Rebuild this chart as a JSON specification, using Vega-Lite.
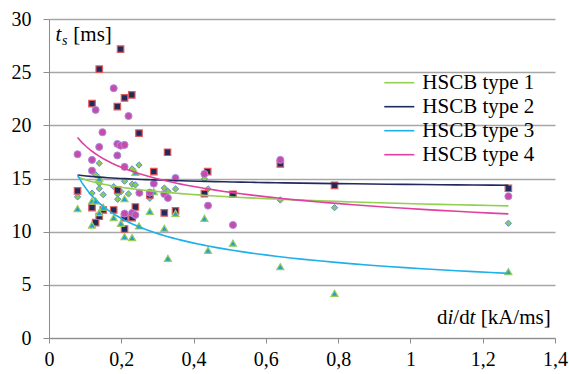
{
  "$schema": "https://vega.github.io/schema/vega-lite/v6.json",
  "width": 506,
  "height": 319,
  "autosize": {"type": "none"},
  "padding": {"left": 49, "top": 19, "right": 14, "bottom": 36},
  "background": "white",
  "config": {"view": {"stroke": null}},
  "data": {"values": [
    {"series": "HSCB type 1", "x": 0.079, "y": 13.27},
    {"series": "HSCB type 1", "x": 0.119, "y": 13.62},
    {"series": "HSCB type 1", "x": 0.129, "y": 15.35},
    {"series": "HSCB type 1", "x": 0.139, "y": 16.43},
    {"series": "HSCB type 1", "x": 0.139, "y": 14.55},
    {"series": "HSCB type 1", "x": 0.139, "y": 14.05},
    {"series": "HSCB type 1", "x": 0.150, "y": 13.48},
    {"series": "HSCB type 1", "x": 0.179, "y": 14.23},
    {"series": "HSCB type 1", "x": 0.190, "y": 13.55},
    {"series": "HSCB type 1", "x": 0.190, "y": 13.05},
    {"series": "HSCB type 1", "x": 0.199, "y": 13.76},
    {"series": "HSCB type 1", "x": 0.209, "y": 14.75},
    {"series": "HSCB type 1", "x": 0.220, "y": 13.55},
    {"series": "HSCB type 1", "x": 0.230, "y": 15.9},
    {"series": "HSCB type 1", "x": 0.230, "y": 14.46},
    {"series": "HSCB type 1", "x": 0.239, "y": 14.4},
    {"series": "HSCB type 1", "x": 0.249, "y": 16.27},
    {"series": "HSCB type 1", "x": 0.279, "y": 13.14},
    {"series": "HSCB type 1", "x": 0.319, "y": 14.1},
    {"series": "HSCB type 1", "x": 0.329, "y": 13.8},
    {"series": "HSCB type 1", "x": 0.350, "y": 14.02},
    {"series": "HSCB type 1", "x": 0.430, "y": 14.96},
    {"series": "HSCB type 1", "x": 0.440, "y": 14.02},
    {"series": "HSCB type 1", "x": 0.640, "y": 12.98},
    {"series": "HSCB type 1", "x": 0.790, "y": 12.26},
    {"series": "HSCB type 1", "x": 1.271, "y": 10.79},
    {"series": "HSCB type 2", "x": 0.079, "y": 13.83},
    {"series": "HSCB type 2", "x": 0.119, "y": 22.04},
    {"series": "HSCB type 2", "x": 0.119, "y": 12.26},
    {"series": "HSCB type 2", "x": 0.129, "y": 10.85},
    {"series": "HSCB type 2", "x": 0.139, "y": 25.28},
    {"series": "HSCB type 2", "x": 0.139, "y": 11.45},
    {"series": "HSCB type 2", "x": 0.150, "y": 12.04},
    {"series": "HSCB type 2", "x": 0.179, "y": 12.04},
    {"series": "HSCB type 2", "x": 0.189, "y": 21.76},
    {"series": "HSCB type 2", "x": 0.190, "y": 13.92},
    {"series": "HSCB type 2", "x": 0.198, "y": 27.16},
    {"series": "HSCB type 2", "x": 0.209, "y": 22.58},
    {"series": "HSCB type 2", "x": 0.209, "y": 11.32},
    {"series": "HSCB type 2", "x": 0.209, "y": 10.25},
    {"series": "HSCB type 2", "x": 0.229, "y": 22.86},
    {"series": "HSCB type 2", "x": 0.230, "y": 11.32},
    {"series": "HSCB type 2", "x": 0.239, "y": 12.32},
    {"series": "HSCB type 2", "x": 0.249, "y": 19.26},
    {"series": "HSCB type 2", "x": 0.279, "y": 13.45},
    {"series": "HSCB type 2", "x": 0.290, "y": 15.65},
    {"series": "HSCB type 2", "x": 0.319, "y": 11.76},
    {"series": "HSCB type 2", "x": 0.328, "y": 17.47},
    {"series": "HSCB type 2", "x": 0.350, "y": 11.95},
    {"series": "HSCB type 2", "x": 0.430, "y": 13.58},
    {"series": "HSCB type 2", "x": 0.439, "y": 15.65},
    {"series": "HSCB type 2", "x": 0.509, "y": 13.52},
    {"series": "HSCB type 2", "x": 0.640, "y": 16.37},
    {"series": "HSCB type 2", "x": 0.790, "y": 14.36},
    {"series": "HSCB type 2", "x": 1.271, "y": 14.08},
    {"series": "HSCB type 3", "x": 0.079, "y": 12.17},
    {"series": "HSCB type 3", "x": 0.119, "y": 12.89},
    {"series": "HSCB type 3", "x": 0.119, "y": 10.63},
    {"series": "HSCB type 3", "x": 0.129, "y": 12.89},
    {"series": "HSCB type 3", "x": 0.139, "y": 15.02},
    {"series": "HSCB type 3", "x": 0.139, "y": 11.8},
    {"series": "HSCB type 3", "x": 0.150, "y": 12.3},
    {"series": "HSCB type 3", "x": 0.179, "y": 11.32},
    {"series": "HSCB type 3", "x": 0.199, "y": 10.79},
    {"series": "HSCB type 3", "x": 0.209, "y": 13.1},
    {"series": "HSCB type 3", "x": 0.209, "y": 9.53},
    {"series": "HSCB type 3", "x": 0.230, "y": 9.44},
    {"series": "HSCB type 3", "x": 0.239, "y": 15.59},
    {"series": "HSCB type 3", "x": 0.249, "y": 10.54},
    {"series": "HSCB type 3", "x": 0.279, "y": 11.92},
    {"series": "HSCB type 3", "x": 0.290, "y": 13.76},
    {"series": "HSCB type 3", "x": 0.319, "y": 10.32},
    {"series": "HSCB type 3", "x": 0.329, "y": 7.5},
    {"series": "HSCB type 3", "x": 0.350, "y": 11.73},
    {"series": "HSCB type 3", "x": 0.430, "y": 11.26},
    {"series": "HSCB type 3", "x": 0.440, "y": 8.25},
    {"series": "HSCB type 3", "x": 0.509, "y": 8.92},
    {"series": "HSCB type 3", "x": 0.640, "y": 6.71},
    {"series": "HSCB type 3", "x": 0.790, "y": 4.2},
    {"series": "HSCB type 3", "x": 1.271, "y": 6.24},
    {"series": "HSCB type 4", "x": 0.079, "y": 17.28},
    {"series": "HSCB type 4", "x": 0.119, "y": 16.75},
    {"series": "HSCB type 4", "x": 0.119, "y": 15.74},
    {"series": "HSCB type 4", "x": 0.129, "y": 21.45},
    {"series": "HSCB type 4", "x": 0.139, "y": 17.97},
    {"series": "HSCB type 4", "x": 0.148, "y": 19.35},
    {"series": "HSCB type 4", "x": 0.179, "y": 23.49},
    {"series": "HSCB type 4", "x": 0.189, "y": 18.25},
    {"series": "HSCB type 4", "x": 0.189, "y": 17.17},
    {"series": "HSCB type 4", "x": 0.198, "y": 18.09},
    {"series": "HSCB type 4", "x": 0.209, "y": 18.16},
    {"series": "HSCB type 4", "x": 0.209, "y": 16.09},
    {"series": "HSCB type 4", "x": 0.209, "y": 11.7},
    {"series": "HSCB type 4", "x": 0.220, "y": 20.88},
    {"series": "HSCB type 4", "x": 0.230, "y": 11.76},
    {"series": "HSCB type 4", "x": 0.239, "y": 11.57},
    {"series": "HSCB type 4", "x": 0.250, "y": 13.65},
    {"series": "HSCB type 4", "x": 0.279, "y": 13.67},
    {"series": "HSCB type 4", "x": 0.290, "y": 14.52},
    {"series": "HSCB type 4", "x": 0.319, "y": 13.55},
    {"series": "HSCB type 4", "x": 0.329, "y": 13.17},
    {"series": "HSCB type 4", "x": 0.350, "y": 15.05},
    {"series": "HSCB type 4", "x": 0.430, "y": 15.43},
    {"series": "HSCB type 4", "x": 0.440, "y": 12.45},
    {"series": "HSCB type 4", "x": 0.509, "y": 10.63},
    {"series": "HSCB type 4", "x": 0.640, "y": 16.75},
    {"series": "HSCB type 4", "x": 1.271, "y": 13.33}
  ]},
  "layer": [
    {
      "transform": [{"filter": "datum.series === 'HSCB type 1'"}],
      "mark": {"type": "point", "shape": "diamond", "filled": true, "fill": "#8fcb4a", "stroke": "#5b8fd6", "strokeWidth": 1, "size": 40, "opacity": 1},
      "encoding": {
        "x": {
          "field": "x", "type": "quantitative",
          "scale": {"domain": [0, 1.4], "nice": false, "zero": false},
          "axis": {
            "title": null, "grid": false,
            "values": [0, 0.2, 0.4, 0.6, 0.8, 1, 1.2, 1.4],
            "labelExpr": "replace(format(datum.value, '~g'), '.', ',')",
            "domainColor": "#8c8c8c", "tickColor": "#8c8c8c", "tickSize": 5,
            "labelFont": "Liberation Serif", "labelFontSize": 20,
            "labelPadding": 6, "labelFlush": false, "labelOverlap": false
          }
        },
        "y": {
          "field": "y", "type": "quantitative",
          "scale": {"domain": [0, 30], "nice": false, "zero": false},
          "axis": {
            "title": null, "grid": true, "gridColor": "#a6a6a6", "gridWidth": 1.3,
            "values": [0, 5, 10, 15, 20, 25, 30],
            "domainColor": "#8c8c8c", "tickColor": "#8c8c8c", "tickSize": 6,
            "labelFont": "Liberation Serif", "labelFontSize": 20,
            "labelPadding": 12, "labelFlush": false, "labelOverlap": false
          }
        }
      }
    },
    {
      "transform": [{"filter": "datum.series === 'HSCB type 2'"}],
      "mark": {"type": "point", "shape": "square", "filled": true, "fill": "#1f2a5e", "stroke": "#e05a5a", "strokeWidth": 1.2, "size": 42, "opacity": 1},
      "encoding": {"x": {"field": "x", "type": "quantitative"}, "y": {"field": "y", "type": "quantitative"}}
    },
    {
      "transform": [{"filter": "datum.series === 'HSCB type 3'"}],
      "mark": {"type": "point", "shape": "triangle-up", "filled": true, "fill": "#229fd2", "stroke": "#9acd5a", "strokeWidth": 1.2, "size": 50, "opacity": 1},
      "encoding": {"x": {"field": "x", "type": "quantitative"}, "y": {"field": "y", "type": "quantitative"}}
    },
    {
      "transform": [{"filter": "datum.series === 'HSCB type 4'"}],
      "mark": {"type": "point", "shape": "circle", "filled": true, "fill": "#c64cac", "stroke": "#a98be0", "strokeWidth": 1, "size": 50, "opacity": 1},
      "encoding": {"x": {"field": "x", "type": "quantitative"}, "y": {"field": "y", "type": "quantitative"}}
    },
    {
      "transform": [{"regression": "y", "on": "x", "groupby": ["series"], "method": "pow"}],
      "mark": {"type": "line", "strokeWidth": 1.6},
      "encoding": {
        "x": {"field": "x", "type": "quantitative"},
        "y": {"field": "y", "type": "quantitative"},
        "color": {
          "field": "series", "type": "nominal",
          "scale": {"domain": ["HSCB type 1", "HSCB type 2", "HSCB type 3", "HSCB type 4"], "range": ["#92d050", "#1f2a5e", "#1eb0ea", "#e040a0"]},
          "legend": {
            "orient": "none", "legendX": 336.8, "legendY": 50.2, "title": null,
            "symbolType": "M-1.2,0H1.2", "symbolSize": 625, "symbolStrokeWidth": 1.6,
            "labelFont": "Liberation Serif", "labelFontSize": 21,
            "labelOffset": 9.5, "rowPadding": 0, "padding": 0, "labelLimit": 300
          }
        }
      }
    },
    {
      "data": {"values": [{"k": 1}]},
      "mark": {"type": "text", "font": "Liberation Serif", "fontStyle": "italic", "fontSize": 21, "align": "left", "baseline": "alphabetic"},
      "encoding": {"x": {"datum": 0.018, "type": "quantitative"}, "y": {"datum": 27.9, "type": "quantitative"}, "text": {"value": "t"}}
    },
    {
      "data": {"values": [{"k": 1}]},
      "mark": {"type": "text", "font": "Liberation Serif", "fontStyle": "italic", "fontSize": 14, "align": "left", "baseline": "alphabetic", "dx": 6.5, "dy": 4},
      "encoding": {"x": {"datum": 0.018, "type": "quantitative"}, "y": {"datum": 27.9, "type": "quantitative"}, "text": {"value": "s"}}
    },
    {
      "data": {"values": [{"k": 1}]},
      "mark": {"type": "text", "font": "Liberation Serif", "fontSize": 21, "align": "left", "baseline": "alphabetic", "dx": 17.8},
      "encoding": {"x": {"datum": 0.018, "type": "quantitative"}, "y": {"datum": 27.9, "type": "quantitative"}, "text": {"value": "[ms]"}}
    },
    {
      "data": {"values": [{"k": 1}]},
      "mark": {"type": "text", "font": "Liberation Serif", "fontSize": 21, "align": "right", "baseline": "alphabetic"},
      "encoding": {"x": {"datum": 1.388, "type": "quantitative"}, "y": {"datum": 1.3, "type": "quantitative"}, "text": {"value": "[kA/ms]"}}
    },
    {
      "data": {"values": [{"k": 1}]},
      "mark": {"type": "text", "font": "Liberation Serif", "fontStyle": "italic", "fontSize": 21, "align": "right", "baseline": "alphabetic", "dx": -75.2},
      "encoding": {"x": {"datum": 1.388, "type": "quantitative"}, "y": {"datum": 1.3, "type": "quantitative"}, "text": {"value": "t"}}
    },
    {
      "data": {"values": [{"k": 1}]},
      "mark": {"type": "text", "font": "Liberation Serif", "fontSize": 21, "align": "right", "baseline": "alphabetic", "dx": -81},
      "encoding": {"x": {"datum": 1.388, "type": "quantitative"}, "y": {"datum": 1.3, "type": "quantitative"}, "text": {"value": "/d"}}
    },
    {
      "data": {"values": [{"k": 1}]},
      "mark": {"type": "text", "font": "Liberation Serif", "fontStyle": "italic", "fontSize": 21, "align": "right", "baseline": "alphabetic", "dx": -97.3},
      "encoding": {"x": {"datum": 1.388, "type": "quantitative"}, "y": {"datum": 1.3, "type": "quantitative"}, "text": {"value": "i"}}
    },
    {
      "data": {"values": [{"k": 1}]},
      "mark": {"type": "text", "font": "Liberation Serif", "fontSize": 21, "align": "right", "baseline": "alphabetic", "dx": -103.1},
      "encoding": {"x": {"datum": 1.388, "type": "quantitative"}, "y": {"datum": 1.3, "type": "quantitative"}, "text": {"value": "d"}}
    }
  ]
}
